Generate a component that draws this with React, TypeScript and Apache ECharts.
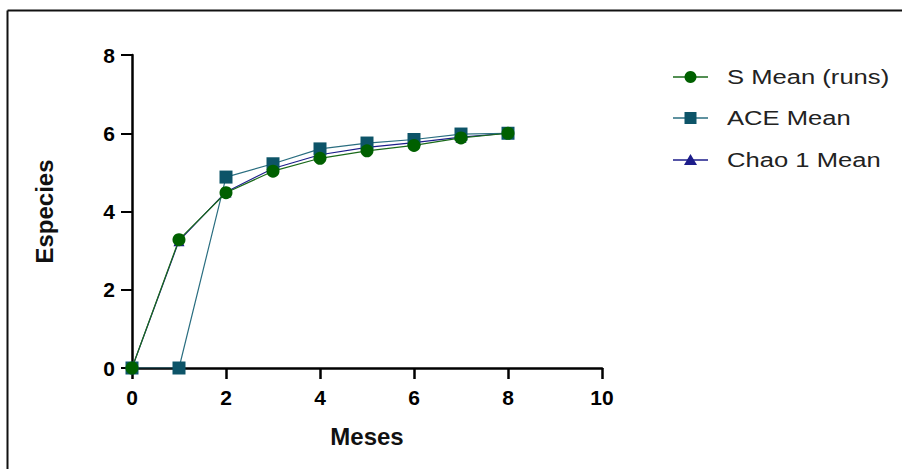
import React, { useEffect, useRef } from "react";
import * as echarts from "echarts";

const months = [0, 1, 2, 3, 4, 5, 6, 7, 8];
const sMean = [0, 3.28, 4.48, 5.03, 5.36, 5.55, 5.69, 5.88, 6.0];
const aceMean = [0, 0, 4.88, 5.22, 5.6, 5.75, 5.84, 5.98, 6.0];
const chaoMean = [0, 3.25, 4.5, 5.1, 5.45, 5.64, 5.76, 5.9, 6.0];
const seriesNames = ["S Mean (runs)", "ACE Mean", "Chao 1 Mean"];
const seriesColors = ["#006000", "#0d5468", "#1c1c8a"];
const lineColors = ["#1a6a1a", "#2a6e80", "#1c1c8a"];

const FONT = "Liberation Sans, Arial, sans-serif";

export default function App() {
  const ref = useRef<HTMLDivElement>(null);
  useEffect(() => {
    const chart = echarts.init(ref.current!, null, { renderer: "svg" });
    const pair = (arr: number[]) => months.map((m, i) => [m, arr[i]]);
    const axisLabel = {
      color: "#000",
      fontFamily: FONT,
      fontWeight: "bold" as const,
      fontSize: 21,
    };

    // manual legend
    const legendY = [77, 118, 160];
    const legendItems: any[] = [];
    seriesNames.forEach((name, i) => {
      const y = legendY[i];
      legendItems.push({
        type: "line",
        shape: { x1: 673, y1: y, x2: 708, y2: y },
        style: { stroke: lineColors[i], lineWidth: 1.5 },
      });
      if (i === 0) {
        legendItems.push({ type: "circle", shape: { cx: 690.5, cy: y, r: 6 }, style: { fill: seriesColors[i] } });
      } else if (i === 1) {
        legendItems.push({ type: "rect", shape: { x: 684.5, y: y - 6, width: 12, height: 12 }, style: { fill: seriesColors[i] } });
      } else {
        legendItems.push({
          type: "polygon",
          shape: { points: [[690.5, y - 6], [697, y + 5], [684, y + 5]] },
          style: { fill: seriesColors[i] },
        });
      }
      legendItems.push({
        type: "text",
        x: 727,
        y: y,
        scaleX: 1.28,
        style: {
          text: name,
          fill: "#222",
          font: `20px ${FONT}`,
          verticalAlign: "middle",
          align: "left",
        },
      });
    });

    chart.setOption({
      animation: false,
      backgroundColor: "#fff",
      graphic: [
        { type: "line", shape: { x1: 7.5, y1: 10.5, x2: 902, y2: 10.5 }, style: { stroke: "#111", lineWidth: 2 } },
        { type: "line", shape: { x1: 7.5, y1: 10.5, x2: 7.5, y2: 469 }, style: { stroke: "#111", lineWidth: 2 } },
        ...legendItems,
      ],
      grid: { left: 132, top: 55, right: 300, bottom: 101, containLabel: false },
      legend: { show: false, data: seriesNames },
      xAxis: {
        type: "value",
        min: 0,
        max: 10,
        interval: 2,
        name: "Meses",
        nameLocation: "middle",
        nameGap: 56,
        nameTextStyle: { fontSize: 24, fontWeight: "bold", color: "#111", fontFamily: FONT },
        splitLine: { show: false },
        axisLine: { show: true, lineStyle: { color: "#000", width: 2.5 } },
        axisTick: { show: true, length: 11, lineStyle: { color: "#000", width: 2.5 } },
        axisLabel: { ...axisLabel, margin: 19 },
      },
      yAxis: {
        type: "value",
        min: 0,
        max: 8,
        interval: 2,
        name: "Especies",
        nameLocation: "middle",
        nameGap: 76,
        nameRotate: 90,
        nameTextStyle: { fontSize: 24, fontWeight: "bold", color: "#111", fontFamily: FONT },
        splitLine: { show: false },
        axisLine: { show: true, lineStyle: { color: "#000", width: 2.5 } },
        axisTick: { show: true, length: 11, lineStyle: { color: "#000", width: 2 } },
        axisLabel: { ...axisLabel, margin: 17 },
      },
      series: [
        {
          name: seriesNames[2],
          type: "line",
          data: pair(chaoMean),
          symbol: "triangle",
          symbolSize: 11,
          lineStyle: { width: 1.2, color: lineColors[2] },
          itemStyle: { color: seriesColors[2] },
          z: 2,
        },
        {
          name: seriesNames[1],
          type: "line",
          data: pair(aceMean),
          symbol: "rect",
          symbolSize: 13,
          lineStyle: { width: 1.2, color: lineColors[1] },
          itemStyle: { color: seriesColors[1] },
          z: 3,
        },
        {
          name: seriesNames[0],
          type: "line",
          data: pair(sMean),
          symbol: "circle",
          symbolSize: 13,
          lineStyle: { width: 1.2, color: lineColors[0] },
          itemStyle: { color: seriesColors[0] },
          z: 4,
        },
      ],
    });
    return () => chart.dispose();
  }, []);
  return (
    <div
      ref={ref}
      style={{ position: "fixed", left: 0, top: 0, width: 902, height: 469, background: "#fff" }}
    />
  );
}
